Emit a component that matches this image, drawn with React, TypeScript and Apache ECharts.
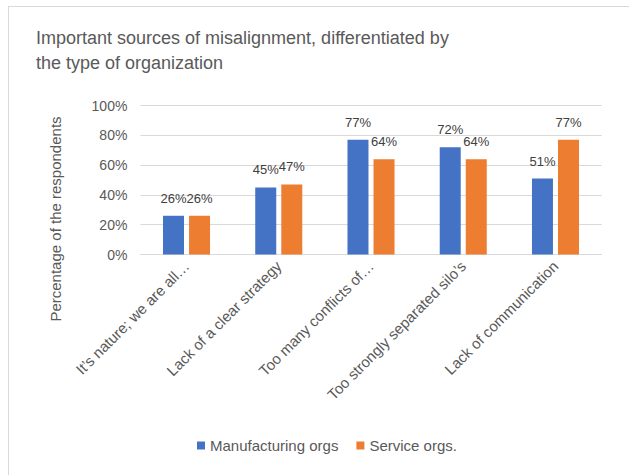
import React, { useEffect, useRef } from "react";
import * as echarts from "echarts";

const categories = [
  "It’s nature; we are all…",
  "Lack of a clear strategy",
  "Too many conflicts of…",
  "Too strongly separated silo’s",
  "Lack of communication",
];
const manufacturing = [26, 45, 77, 72, 51];
const service = [26, 47, 64, 64, 77];
const seriesNames = ["Manufacturing orgs", "Service orgs."];
const titleText = "Important sources of misalignment, differentiated by\nthe type of organization";
const yAxisName = "Percentage of the respondents";

const FONT = "'Liberation Sans', Arial, sans-serif";

export default function App() {
  const ref = useRef<HTMLDivElement>(null);
  useEffect(() => {
    if (!ref.current) return;
    const chart = echarts.init(ref.current, null, { renderer: "svg" });
    const labelCfg = {
      show: true,
      position: "top" as const,
      distance: 11,
      formatter: "{c}%",
      color: "#404040",
      fontSize: 13,
      fontFamily: FONT,
    };
    chart.setOption({
      animation: false,
      backgroundColor: "#ffffff",
      textStyle: { fontFamily: FONT },
      title: {
        text: titleText,
        left: 31,
        top: 20,
        textStyle: {
          color: "#595959",
          fontSize: 18,
          fontWeight: "normal",
          lineHeight: 25,
          fontFamily: FONT,
        },
      },
      graphic: [
        { type: "line", shape: { x1: 8, y1: 6.5, x2: 629, y2: 6.5 }, style: { stroke: "#d9d9d9", lineWidth: 1 } },
        { type: "line", shape: { x1: 8.5, y1: 6, x2: 8.5, y2: 475 }, style: { stroke: "#d9d9d9", lineWidth: 1 } },
        {
          type: "text",
          x: 55,
          y: 219,
          rotation: Math.PI / 2,
          style: {
            text: yAxisName,
            fill: "#595959",
            fontSize: 15,
            fontFamily: FONT,
            align: "center",
            verticalAlign: "middle",
          },
        },
      ],
      legend: {
        data: seriesNames,
        left: 192,
        top: 433,
        icon: "rect",
        itemWidth: 8,
        itemHeight: 8,
        itemGap: 18,
        textStyle: { color: "#595959", fontSize: 15, fontFamily: FONT },
      },
      grid: { left: 140.4, right: 27.4, top: 105.5, bottom: 220.5, containLabel: false },
      xAxis: {
        type: "category",
        data: categories,
        axisLine: { lineStyle: { color: "#d9d9d9", width: 1 } },
        axisTick: { show: false },
        axisLabel: {
          rotate: 45,
          margin: 9,
          interval: 0,
          color: "#595959",
          fontSize: 15,
          fontFamily: FONT,
        },
      },
      yAxis: {
        type: "value",
        min: 0,
        max: 100,
        interval: 20,
        axisLine: { show: false },
        axisTick: { show: false },
        splitLine: { lineStyle: { color: "#d9d9d9", width: 1 } },
        axisLabel: {
          formatter: "{value}%",
          margin: 13,
          color: "#595959",
          fontSize: 14,
          fontFamily: FONT,
        },
      },
      series: [
        {
          name: seriesNames[0],
          type: "bar",
          data: manufacturing,
          barWidth: 21,
          barGap: "24%",
          itemStyle: { color: "#4472C4" },
          label: labelCfg,
        },
        {
          name: seriesNames[1],
          type: "bar",
          data: service,
          barWidth: 21,
          barGap: "24%",
          itemStyle: { color: "#ED7D31" },
          label: labelCfg,
        },
      ],
    });
    return () => chart.dispose();
  }, []);
  return (
    <div
      ref={ref}
      style={{ position: "fixed", left: 0, top: 0, width: 629, height: 475 }}
    />
  );
}
